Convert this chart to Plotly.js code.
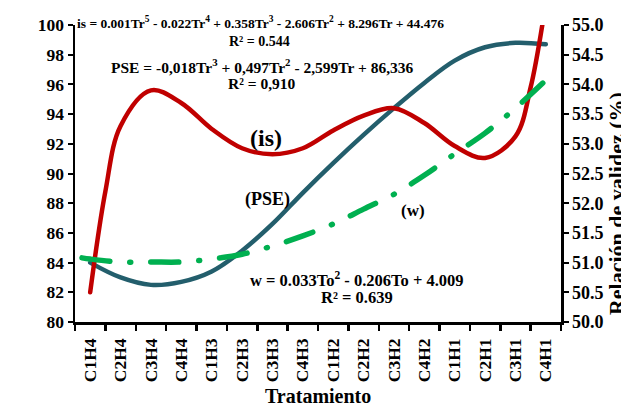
<!DOCTYPE html>
<html>
<head>
<meta charset="utf-8">
<script src="https://cdn.plot.ly/plotly-3.0.1.min.js"></script>
<style>
html,body{margin:0;padding:0;background:#fff;}
#chart{width:621px;height:408px;}
.scatterlayer path.js-line{stroke-linecap:round;stroke-linejoin:round;}
</style>
</head>
<body>
<div id="chart"></div>
<script>
// Category labels (tratamientos)
const categories = ["C1H4","C2H4","C3H4","C4H4","C1H3","C2H3","C3H3","C4H3",
                    "C1H2","C2H2","C3H2","C4H2","C1H1","C2H1","C3H1","C4H1"];
const catPos = [1,2,3,4,5,6,7,8,9,10,11,12,13,14,15,16];

// (is) trend curve, left axis (%)
const isX = [1, 1.5, 2, 3, 4, 5, 6, 7, 8, 9, 10, 11, 12, 13, 14, 15, 15.5, 16];
const isVals = [82.0, 88.8, 93.2, 95.6, 94.75, 93.0, 91.7, 91.3, 91.7, 92.9, 93.9, 94.4, 93.4, 91.85, 91.05, 92.5, 95.8, 101.5];

// (PSE) trend curve, left axis (%)
const pseX = [1, 2, 3, 4, 5, 6, 7, 8, 9, 10, 11, 12, 13, 14, 15, 16];
const pseVals = [84.0, 83.0, 82.5, 82.7, 83.4, 84.8, 86.6, 88.7, 90.7, 92.6, 94.4, 96.1, 97.6, 98.5, 98.8, 98.7];

// (w) trend curve, right axis (%)
const wX = [0.73, 1, 2, 3, 4, 5, 6, 7, 8, 9, 10, 11, 12, 13, 14, 15, 16];
const wVals = [51.08, 51.06, 51.01, 51.01, 51.01, 51.06, 51.14, 51.28, 51.45, 51.65, 51.90, 52.15, 52.47, 52.83, 53.18, 53.60, 54.07];

const serif = "Liberation Serif, Times New Roman, serif";

const traces = [
  {x: wX, y: wVals, yaxis: 'y2', type: 'scatter', mode: 'lines',
   line: {color: '#00B050', width: 5.5, shape: 'spline', dash: '28px,20px,1px,20px'},
   hoverinfo: 'skip', showlegend: false},
  {x: pseX, y: pseVals, type: 'scatter', mode: 'lines',
   line: {color: '#235E6C', width: 4.5, shape: 'spline'},
   hoverinfo: 'skip', showlegend: false},
  {x: isX, y: isVals, type: 'scatter', mode: 'lines',
   line: {color: '#C00000', width: 4.5, shape: 'spline'},
   hoverinfo: 'skip', showlegend: false}
];

function ann(text, x, y, size, extra) {
  return Object.assign({text: text, x: x, y: y, xref: 'paper', yref: 'paper',
    showarrow: false, xanchor: 'center', yanchor: 'middle',
    font: {family: serif, size: size, color: '#000', weight: 'bold'}}, extra || {});
}

const layout = {
  width: 621, height: 408,
  margin: {l: 75, r: 60, t: 25, b: 86},
  paper_bgcolor: '#fff', plot_bgcolor: '#fff',
  showlegend: false,
  xaxis: {
    range: [0.5, 16.5], tickmode: 'array', tickvals: catPos, ticktext: categories,
    ticks: '', tickangle: -90, ticklabelstandoff: 7,
    tickfont: {family: serif, size: 17.5, color: '#000', weight: 'bold'},
    showline: true, linecolor: '#000', linewidth: 2.5,
    showgrid: false, zeroline: false,
    minor: {tick0: 0.5, dtick: 1, ticks: 'outside', ticklen: 6, tickwidth: 2.5, tickcolor: '#000', showgrid: false}
  },
  yaxis: {
    range: [80, 100], dtick: 2, ticks: 'outside', ticklen: 5, tickwidth: 2, tickcolor: '#000',
    tickfont: {family: serif, size: 17.5, color: '#000', weight: 'bold'},
    showline: true, linecolor: '#000', linewidth: 2.5,
    showgrid: false, zeroline: false
  },
  yaxis2: {
    range: [50, 55], dtick: 0.5, tickformat: '.1f', overlaying: 'y', side: 'right',
    ticks: 'outside', ticklen: 5, tickwidth: 2, tickcolor: '#000',
    tickfont: {family: serif, size: 18, color: '#000', weight: 'bold'},
    showline: true, linecolor: '#000', linewidth: 2.5,
    showgrid: false, zeroline: false
  },
  annotations: [
    ann('is = 0.001Tr<sup>5</sup> - 0.022Tr<sup>4</sup> + 0.358Tr<sup>3</sup> - 2.606Tr<sup>2</sup> + 8.296Tr + 44.476', 0.381, 1.007, 13.5),
    ann('R² = 0.544', 0.379, 0.945, 14),
    ann('PSE = -0,018Tr<sup>3</sup> + 0,497Tr<sup>2</sup> - 2,599Tr + 86,336', 0.385, 0.862, 15.5),
    ann('R² = 0,910', 0.385, 0.802, 15.5),
    ann('(is)', 0.393, 0.62, 24),
    ann('(PSE)', 0.397, 0.411, 18),
    ann('(w)', 0.695, 0.377, 17),
    ann('w = 0.033To<sup>2</sup> - 0.206To + 4.009', 0.580, 0.143, 16.5),
    ann('R² = 0.639', 0.580, 0.082, 16.5),
    ann('Tratamiento', 0.5, -0.25, 20),
    ann('Profundidad de enraizamiento (%)', -0.19, 0.5, 20, {textangle: -90}),
    ann('Relación de validez (%)', 1.113, 0.40, 22, {textangle: -90})
  ]
};

Plotly.newPlot('chart', traces, layout, {displayModeBar: false, staticPlot: true});
</script>
</body>
</html>
